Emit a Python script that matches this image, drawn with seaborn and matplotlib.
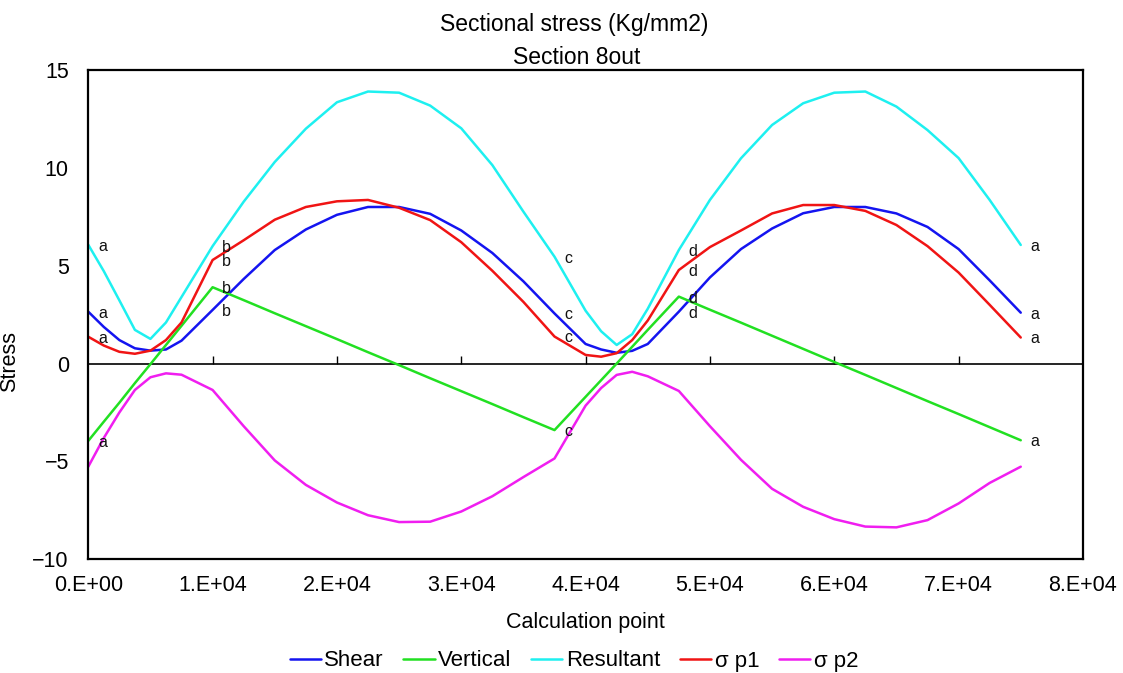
import matplotlib
matplotlib.use("Agg")
import matplotlib.pyplot as plt
import pandas as pd
import seaborn as sns
from matplotlib import font_manager

# Calculation points along the section and the stresses computed at each one
calc_point = [0, 1250, 2500, 3750, 5000, 6250, 7500, 10000, 12500, 15000, 17500, 20000,
              22500, 25000, 27500, 30000, 32500, 35000, 37500, 40000, 41250, 42500, 43750,
              45000, 47500, 50000, 52500, 55000, 57500, 60000, 62500, 65000, 67500, 70000,
              72500, 75000]

shear = [2.65, 1.87, 1.2, 0.78, 0.66, 0.72, 1.17, 2.74, 4.32, 5.8, 6.85, 7.6,
         8.0, 8.0, 7.65, 6.8, 5.65, 4.2, 2.56, 1.0, 0.72, 0.55, 0.65,
         1.0, 2.65, 4.4, 5.85, 6.9, 7.68, 8.0, 8.0, 7.67, 6.98, 5.85,
         4.25, 2.6]

vertical = [-3.95, -2.97, -2.0, -1.0, -0.03, 0.95, 1.93, 3.9, 3.24, 2.57, 1.91, 1.25,
            0.58, -0.08, -0.75, -1.41, -2.07, -2.74, -3.4, -1.7, -0.85, 0.0, 0.86,
            1.72, 3.42, 2.75, 2.09, 1.42, 0.75, 0.08, -0.58, -1.25, -1.92, -2.58,
            -3.25, -3.92]

resultant = [6.07, 4.72, 3.23, 1.72, 1.26, 2.1, 3.4, 6.0, 8.27, 10.3, 12.0, 13.35,
             13.9, 13.84, 13.18, 12.02, 10.14, 7.76, 5.46, 2.7, 1.65, 0.95, 1.5,
             2.8, 5.8, 8.36, 10.49, 12.19, 13.3, 13.84, 13.9, 13.13, 11.93, 10.5,
             8.36, 6.06]

sigma_p1 = [1.37, 0.92, 0.6, 0.5, 0.66, 1.2, 2.1, 5.29, 6.3, 7.35, 8.0, 8.29,
            8.36, 7.96, 7.33, 6.2, 4.74, 3.15, 1.38, 0.44, 0.35, 0.53, 1.2,
            2.2, 4.78, 5.95, 6.8, 7.67, 8.1, 8.1, 7.8, 7.08, 6.0, 4.65,
            3.0, 1.33]

sigma_p2 = [-5.27, -3.8, -2.5, -1.35, -0.7, -0.5, -0.57, -1.35, -3.2, -4.95, -6.2, -7.1,
            -7.75, -8.1, -8.08, -7.56, -6.78, -5.8, -4.85, -2.15, -1.25, -0.58, -0.42,
            -0.65, -1.4, -3.2, -4.92, -6.4, -7.32, -7.95, -8.33, -8.37, -8.0, -7.15,
            -6.1, -5.27]

series_names = ["Shear", "Vertical", "Resultant", "σ p1", "σ p2"]
series_colors = ["#1414F0", "#22E022", "#1EF0F0", "#F01414", "#F01EF0"]

# Letters marking the section points a-d
label_x = [0, 10000, 37500, 47500, 75000]
label_text = ["a", "b", "c", "d", "a"]
labelled_series = ["Resultant", "Shear", "σ p1", "Vertical"]

x_ticks = [0, 10000, 20000, 30000, 40000, 50000, 60000, 70000, 80000]
x_tick_labels = ["0.E+00", "1.E+04", "2.E+04", "3.E+04", "4.E+04",
                 "5.E+04", "6.E+04", "7.E+04", "8.E+04"]
y_ticks = [-10, -5, 0, 5, 10, 15]

sns.set_theme(style="white")
available = {f.name for f in font_manager.fontManager.ttflist}
narrow = "Liberation Sans Narrow" if "Liberation Sans Narrow" in available else "Liberation Sans"
plt.rcParams["font.family"] = ["Liberation Sans", "DejaVu Sans"]
for key in ["text.color", "axes.labelcolor", "xtick.color", "ytick.color"]:
    plt.rcParams[key] = "black"

wide = pd.DataFrame({"Calculation point": calc_point, "Shear": shear, "Vertical": vertical,
                     "Resultant": resultant, "σ p1": sigma_p1, "σ p2": sigma_p2})
long = wide.melt(id_vars="Calculation point", var_name="series", value_name="Stress")

fig = plt.figure(figsize=(11.23, 6.73), dpi=100)
fig.patch.set_facecolor("white")
ax = fig.add_axes([0.0786, 0.169, 0.8857, 0.727])
ax.set_facecolor("white")

sns.lineplot(data=long, x="Calculation point", y="Stress", hue="series",
             hue_order=series_names, palette=dict(zip(series_names, series_colors)),
             linewidth=1.8, estimator=None, sort=False, ax=ax)

ymin, ymax = -10, 15
ax.set_xlim(0, 80000)
ax.set_ylim(ymin, ymax)

# Point letters beside the curves
for name in labelled_series:
    for lx, lt in zip(label_x, label_text):
        val = wide.loc[wide["Calculation point"] == lx, name].iloc[0]
        ax.annotate(lt, (lx, val), xytext=(7, -1), textcoords="offset points",
                    ha="left", va="center", fontsize=11.5, color="#111111")

# Frame and ticks
for sp in ax.spines.values():
    sp.set_visible(True)
    sp.set_color("black")
    sp.set_linewidth(1.6)
ax.set_xticks(x_ticks)
ax.set_xticklabels(x_tick_labels, family=narrow, fontsize=15.5)
ax.set_yticks(y_ticks)
ax.tick_params(axis="x", length=0, pad=11, colors="black")
ax.tick_params(axis="y", direction="in", length=5, width=1, pad=14, labelsize=15.5,
               colors="black")
ax.grid(False)

# Zero line carrying the calculation point ticks
zero_axis = ax.secondary_xaxis((0 - ymin) / (ymax - ymin))
zero_axis.set_xticks(x_ticks[1:-1])
zero_axis.tick_params(direction="in", length=6, width=1, labelbottom=False,
                      labeltop=False, colors="black")
zero_axis.spines["bottom"].set_linewidth(1.2)
zero_axis.spines["bottom"].set_color("black")

ax.set_xlabel("Calculation point", family=narrow, fontsize=15.5, labelpad=12, color="black")
ax.set_ylabel("Stress", fontsize=15.5, color="black")
ax.yaxis.set_label_coords(-0.0687, 0.405)

fig.text(574 / 1123, 1 - 25 / 673, "Sectional stress (Kg/mm2)", family=narrow,
         fontsize=16.5, ha="center", va="center", color="black")
fig.text(577 / 1123, 1 - 57 / 673, "Section 8out", family=narrow,
         fontsize=16.5, ha="center", va="center", color="black")

handles, labels = ax.get_legend_handles_labels()
ax.get_legend().remove()
leg = fig.legend(handles, labels, loc="center", bbox_to_anchor=(0.511, 1 - 661 / 673),
                 ncol=5, frameon=False, handlelength=1.4, handletextpad=0.15,
                 columnspacing=0.9, fontsize=16)
for line in leg.get_lines():
    line.set_linewidth(1.8)
for txt in leg.get_texts():
    txt.set_color("black")

fig.savefig("out.png", dpi=100, facecolor="white")
